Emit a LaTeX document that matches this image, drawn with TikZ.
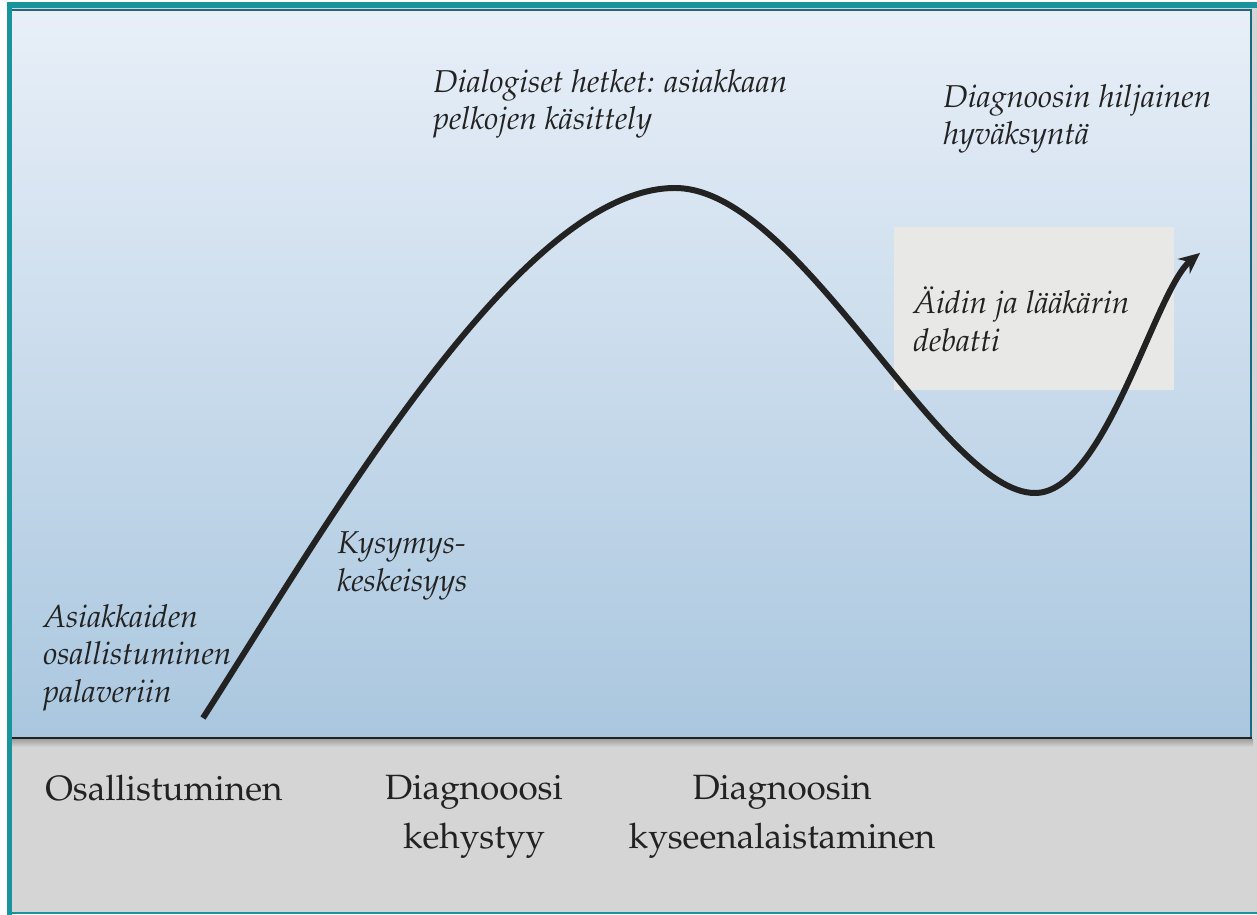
\documentclass[tikz,border=0pt]{standalone}
\usepackage[T1]{fontenc}
\usepackage{mathpazo}
\usepackage{tikz}
\usetikzlibrary{arrows.meta,positioning,backgrounds}
\definecolor{frameteal}{HTML}{17949C}
\definecolor{edgeteal}{HTML}{1B6A84}
\definecolor{paneltop}{HTML}{E8EFF8}
\definecolor{panelbottom}{HTML}{AAC7DF}
\definecolor{phasegray}{HTML}{D5D5D5}
\definecolor{boxgray}{HTML}{E8E8E6}
\definecolor{textblack}{HTML}{222222}

\begin{document}
\begin{tikzpicture}[
    x=0.02cm, y=-0.02cm,
    >={Stealth[length=0.42cm,width=0.38cm,inset=0.14cm]},
    font=\normalfont,
    event/.style={
		anchor=north west,
		inner sep=0pt,
		align=left,
		text=textblack,
		font=\fontsize{18}{21.5}\selectfont\itshape
	},
	phase/.style={
		anchor=north,
		inner sep=0pt,
		align=center,
		text=textblack,
		font=\fontsize{20}{28}\selectfont
	},
	debatebox/.style={
		anchor=north west,
		inner sep=0pt,
		fill=boxgray,
		minimum width=5.6cm,
		minimum height=3.26cm
	},
	course/.style={
		line width=3.4pt,
		draw=textblack,
		->
	}
  ]
    \useasboundingbox (0,0) rectangle (1257,915);
    % We start by drawing the frame and the two bands
    \fill[white] (0,0) rectangle (1257,915);
    \fill[phasegray] (12,8) rectangle (1257,913);
    \fill[frameteal] (7,2) rectangle (12,915);
    \fill[frameteal] (7,2) rectangle (1257,8);
    \fill[frameteal] (12,912) rectangle (1257,914);
    \shade[top color=gray!75, bottom color=phasegray] (12,739) rectangle (1253,747);
    \shade[top color=paneltop, bottom color=panelbottom] (12,10) rectangle (1251,738);
    \draw[edgeteal, line width=1.2pt] (12,10) -- (1251,10) -- (1251,738);
    \draw[textblack, line width=1.3pt] (12,738) -- (1252,738);

  \node [debatebox] (debatebox) at (894,227) {};

    % The course of the meeting
  \coordinate (start) at (203,718);
  \coordinate (peak) at (675,188);
  \coordinate (trough) at (1035,493);
  \coordinate (tip) at (1200,253);
  \draw [course] (start) .. controls (330,520) and (520,188) .. (peak)
     .. controls (800,188) and (940,493) .. (trough)
     .. controls (1105,493) and (1155,290) .. (tip);

    % Events along the curve
  \node [event] (participation) at (43,604)
 {Asiakkaiden\\osallistuminen\\palaveriin};
  \node [event] (questions) at (337,531)
 {Kysymys-\\keskeisyys};
  \node [event] (dialogue) at (433,69)
 {Dialogiset hetket: asiakkaan\\pelkojen k\"asittely};
  \node [event] (debate) at (913,286)
 {\"Aidin ja l\"a\"ak\"arin\\debatti};
  \node [event] (acceptance) at (943,84)
 {Diagnoosin hiljainen\\hyv\"aksynt\"a};

    % Phases in the bottom band
  \node [phase] (phase1) at (164,775) {Osallistuminen};
  \node [phase] (phase2) at (474,775) {Diagnooosi\\kehystyy};
  \node [phase] (phase3) at (782,775) {Diagnoosin\\kyseenalaistaminen};

\end{tikzpicture}
\end{document}
